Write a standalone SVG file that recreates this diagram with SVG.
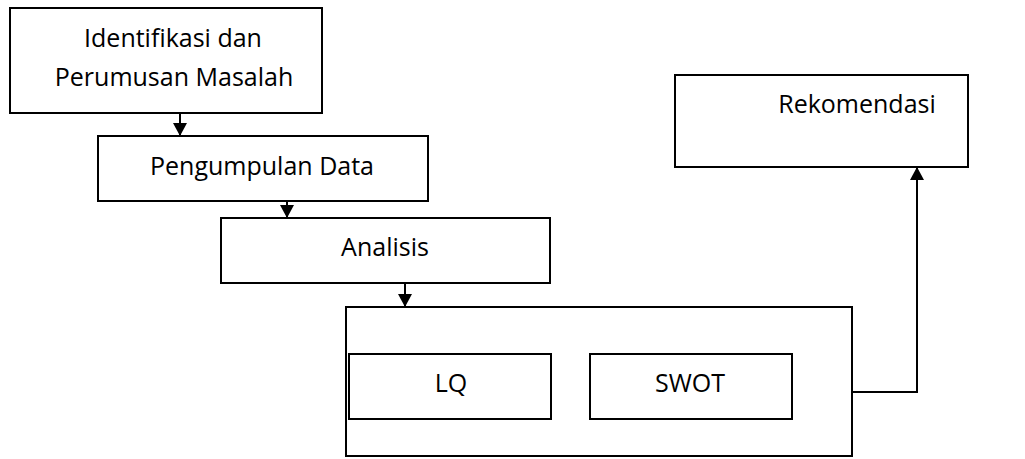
<svg xmlns="http://www.w3.org/2000/svg" width="1025" height="459" viewBox="0 0 1025 459">
  <style>
    .box { fill: #ffffff; stroke: #000000; stroke-width: 2; }
    .lbl { font-family: "Open Sans", "Liberation Sans", sans-serif; font-size: 25px; fill: #000000; text-anchor: middle; }
    .link { fill: none; stroke: #000000; stroke-width: 2; }
  </style>
  <defs>
    <marker id="arrow" markerUnits="userSpaceOnUse" markerWidth="14" markerHeight="14" refX="13" refY="7" orient="auto">
      <path d="M0,0 L13,7 L0,14 z" fill="#000000"/>
    </marker>
  </defs>
  <rect x="0" y="0" width="1025" height="459" fill="#ffffff"/>

  <g id="identifikasi">
    <rect class="box" x="10" y="8" width="312" height="105"/>
    <text class="lbl" x="173" y="47">Identifikasi dan</text>
    <text class="lbl" x="174" y="86">Perumusan Masalah</text>
  </g>

  <g id="pengumpulan">
    <rect class="box" x="98" y="136" width="330" height="65"/>
    <text class="lbl" x="262" y="175">Pengumpulan Data</text>
  </g>

  <g id="analisis">
    <rect class="box" x="221" y="218" width="329" height="65"/>
    <text class="lbl" x="385" y="256">Analisis</text>
  </g>

  <g id="metode">
    <rect class="box" x="346" y="307" width="506" height="149"/>
  </g>

  <g id="lq">
    <rect class="box" x="349" y="354" width="202" height="65"/>
    <text class="lbl" x="451" y="392">LQ</text>
  </g>

  <g id="swot">
    <rect class="box" x="590" y="354" width="202" height="65"/>
    <text class="lbl" x="690" y="392">SWOT</text>
  </g>

  <g id="rekomendasi">
    <rect class="box" x="675" y="75" width="293" height="92"/>
    <text class="lbl" x="857" y="113">Rekomendasi</text>
  </g>

  <g id="connectors">
    <path class="link" d="M180,113 L180,136" marker-end="url(#arrow)"/>
    <path class="link" d="M287,201 L287,218" marker-end="url(#arrow)"/>
    <path class="link" d="M405,283 L405,307" marker-end="url(#arrow)"/>
    <path class="link" d="M852,392 L917,392 L917,167" stroke-width="2.5" marker-end="url(#arrow)"/>
  </g>
</svg>
